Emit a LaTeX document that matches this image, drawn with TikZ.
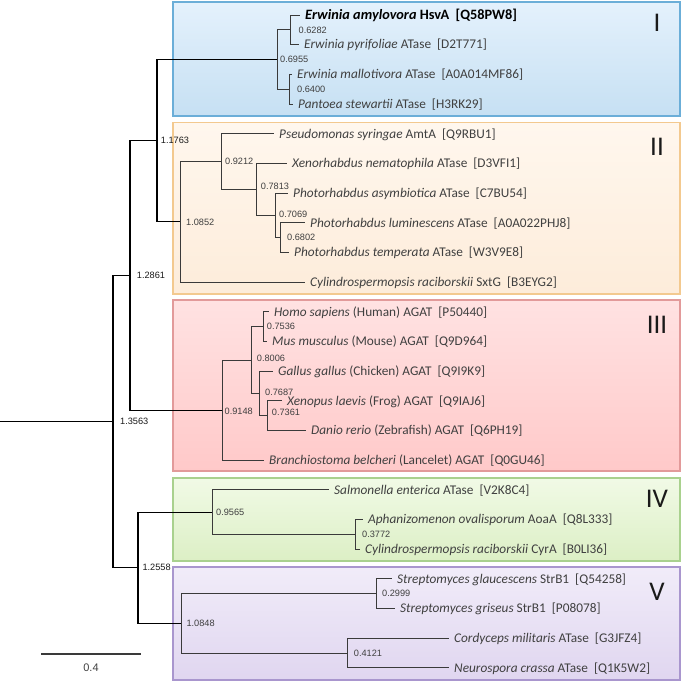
\documentclass[tikz,border=0pt]{standalone}
\usepackage{fontspec}
\setmainfont{Carlito}
\newfontfamily\numfont{Liberation Sans}
\usepackage{tikz}
\usetikzlibrary{positioning,calc}
\definecolor{ink}{HTML}{404040}
\definecolor{inkdark}{HTML}{1A1A1A}
\definecolor{twig}{HTML}{3A3A3A}
\definecolor{blueedge}{HTML}{6BAED8}
\definecolor{bluetop}{HTML}{E4F1FC}
\definecolor{bluebot}{HTML}{C6E0F3}
\definecolor{orangeedge}{HTML}{F3C98F}
\definecolor{orangetop}{HTML}{FFF7EE}
\definecolor{orangebot}{HTML}{FDECDA}
\definecolor{rededge}{HTML}{E29A9A}
\definecolor{redtop}{HTML}{FFE2E2}
\definecolor{redbot}{HTML}{FFC9C9}
\definecolor{greenedge}{HTML}{A9D18E}
\definecolor{greentop}{HTML}{F1FAE6}
\definecolor{greenbot}{HTML}{DCEFC5}
\definecolor{violetedge}{HTML}{A996CE}
\definecolor{violettop}{HTML}{F1ECF9}
\definecolor{violetbot}{HTML}{E0D6F0}
\tikzset{
    cladebox/.style={line width=1.2pt},
    branch/.style={draw=black,line width=1.1pt},
    inbranch/.style={draw=twig,line width=1pt},
    leaf/.style={anchor=west,inner xsep=5pt,inner ysep=0pt,text height=9.8pt,text depth=1.2pt,
      text=ink,font=\fontsize{13.3}{15}\selectfont},
    support/.style={inner xsep=0pt,inner ysep=0pt,text=ink,
      font=\numfont\fontsize{9.2}{11}\selectfont},
    outsupport/.style={support,text=inkdark},
    cladenum/.style={text=inkdark,font=\fontsize{27}{30}\selectfont}
}
\begin{document}
\begin{tikzpicture}[x=1pt,y=-1pt]
  \useasboundingbox (0,0) rectangle (683,681);
  \draw[cladebox,draw=blueedge,top color=bluetop,bottom color=bluebot] (173,2) rectangle (680,116);
  \draw[cladebox,draw=orangeedge,top color=orangetop,bottom color=orangebot] (173,122.5) rectangle (680,294);
  \draw[cladebox,draw=rededge,top color=redtop,bottom color=redbot] (173,300) rectangle (680,471);
  \draw[cladebox,draw=greenedge,top color=greentop,bottom color=greenbot] (173,478) rectangle (680,561);
  \draw[cladebox,draw=violetedge,top color=violettop,bottom color=violetbot] (173,567) rectangle (680,680);
  \node[cladenum] (numI) at (657,23){I};
  \node[cladenum] (numII) at (657,147){II};
  \node[cladenum] (numIII) at (657,325){III};
  \node[cladenum] (numIV) at (657,499){IV};
  \node[cladenum] (numV) at (657,592){V};

  \node[leaf,text=black,text height=10.4pt,font=\fontsize{14.3}{16}\selectfont\bfseries] (lf0) at (300,15){\textit{Erwinia amylovora} HsvA\ \ [Q58PW8]};
  \node[leaf] (lf1) at (299,44.68){\textit{Erwinia pyrifoliae} ATase\ \ [D2T771]};
  \node[leaf] (lf2) at (292,74.36){\textit{Erwinia mallotivora} ATase\ \ [A0A014MF86]};
  \node[leaf] (lf3) at (293,104.04){\textit{Pantoea stewartii} ATase\ \ [H3RK29]};
  \node[leaf] (lf4) at (274,133.72){\textit{Pseudomonas syringae} AmtA\ \ [Q9RBU1]};
  \node[leaf] (lf5) at (287,163.4){\textit{Xenorhabdus nematophila} ATase\ \ [D3VFI1]};
  \node[leaf] (lf6) at (288,193.08){\textit{Photorhabdus asymbiotica} ATase\ \ [C7BU54]};
  \node[leaf] (lf7) at (305,222.76){\textit{Photorhabdus luminescens} ATase\ \ [A0A022PHJ8]};
  \node[leaf] (lf8) at (289,252.44){\textit{Photorhabdus temperata} ATase\ \ [W3V9E8]};
  \node[leaf] (lf9) at (305,282.12){\textit{Cylindrospermopsis raciborskii} SxtG\ \ [B3EYG2]};
  \node[leaf] (lf10) at (269,311.8){\textit{Homo sapiens} (Human) AGAT\ \ [P50440]};
  \node[leaf] (lf11) at (267,341.48){\textit{Mus musculus} (Mouse) AGAT\ \ [Q9D964]};
  \node[leaf] (lf12) at (273,371.16){\textit{Gallus gallus} (Chicken) AGAT\ \ [Q9I9K9]};
  \node[leaf] (lf13) at (282,400.84){\textit{Xenopus laevis} (Frog) AGAT\ \ [Q9IAJ6]};
  \node[leaf] (lf14) at (306,430.52){\textit{Danio rerio} (Zebrafish) AGAT\ \ [Q6PH19]};
  \node[leaf] (lf15) at (264,460.2){\textit{Branchiostoma belcheri} (Lancelet) AGAT\ \ [Q0GU46]};
  \node[leaf] (lf16) at (329,489.88){\textit{Salmonella enterica} ATase\ \ [V2K8C4]};
  \node[leaf] (lf17) at (363,519.56){\textit{Aphanizomenon ovalisporum} AoaA\ \ [Q8L333]};
  \node[leaf] (lf18) at (360,549.24){\textit{Cylindrospermopsis raciborskii} CyrA\ \ [B0LI36]};
  \node[leaf] (lf19) at (392,578.92){\textit{Streptomyces glaucescens} StrB1\ \ [Q54258]};
  \node[leaf] (lf20) at (395,608.6){\textit{Streptomyces griseus} StrB1\ \ [P08078]};
  \node[leaf] (lf21) at (449,638.28){\textit{Cordyceps militaris} ATase\ \ [G3JFZ4]};
  \node[leaf] (lf22) at (449,667.96){\textit{Neurospora crassa} ATase\ \ [Q1K5W2]};

  \coordinate (root) at (0,421.6);
  \coordinate (n13563) at (113,421.6);
  \coordinate (n12861) at (130,275.4);
  \coordinate (n12558) at (138,567.79);
  \coordinate (n11763) at (157,140.68);
  \coordinate (n6955) at (277,59.52);
  \coordinate (n6282) at (290,29.84);
  \coordinate (n6400) at (289,89.2);
  \coordinate (n10852) at (180,221.83);
  \coordinate (n9212) at (221,161.55);
  \coordinate (n7813) at (256,189.37);
  \coordinate (n7069) at (275,215.34);
  \coordinate (n6802) at (280,237.6);
  \coordinate (n9148) at (222,410.12);
  \coordinate (n8006) at (251,360.03);
  \coordinate (n7536) at (263,326.64);
  \coordinate (n7687) at (259,393.42);
  \coordinate (n7361) at (267,415.68);
  \coordinate (n9565) at (212,512.14);
  \coordinate (n3772) at (355,534.4);
  \coordinate (n10848) at (181,623.44);
  \coordinate (n2999) at (376,593.76);
  \coordinate (n4121) at (347,653.12);

  \draw[branch] (root) -- (n13563);
  \draw[branch] (n13563) |- (n12861) (n13563) |- (n12558);
  \draw[branch] (n12861) |- (n11763) (n12861) |- (n9148);
  \draw[branch] (n11763) |- (n6955) (n11763) |- (n10852);
  \draw[branch] (n12558) |- (n9565) (n12558) |- (n10848);
  \draw[inbranch] (n6955) |- (n6282) (n6955) |- (n6400);
  \draw[inbranch] (n6282) |- (lf0.west) (n6282) |- (lf1.west);
  \draw[inbranch] (n6400) |- (lf2.west) (n6400) |- (lf3.west);
  \draw[inbranch] (n10852) |- (n9212) (n10852) |- (lf9.west);
  \draw[inbranch] (n9212) |- (lf4.west) (n9212) |- (n7813);
  \draw[inbranch] (n7813) |- (lf5.west) (n7813) |- (n7069);
  \draw[inbranch] (n7069) |- (lf6.west) (n7069) |- (n6802);
  \draw[inbranch] (n6802) |- (lf7.west) (n6802) |- (lf8.west);
  \draw[inbranch] (n9148) |- (n8006) (n9148) |- (lf15.west);
  \draw[inbranch] (n8006) |- (n7536) (n8006) |- (n7687);
  \draw[inbranch] (n7536) |- (lf10.west) (n7536) |- (lf11.west);
  \draw[inbranch] (n7687) |- (lf12.west) (n7687) |- (n7361);
  \draw[inbranch] (n7361) |- (lf13.west) (n7361) |- (lf14.west);
  \draw[inbranch] (n9565) |- (lf16.west) (n9565) |- (n3772);
  \draw[inbranch] (n3772) |- (lf17.west) (n3772) |- (lf18.west);
  \draw[inbranch] (n10848) |- (n2999) (n10848) |- (n4121);
  \draw[inbranch] (n2999) |- (lf19.west) (n2999) |- (lf20.west);
  \draw[inbranch] (n4121) |- (lf21.west) (n4121) |- (lf22.west);

  \node[outsupport,right=7pt of n13563] (s13563){1.3563};
  \node[outsupport,right=6.7pt of n12861] (s12861){1.2861};
  \node[outsupport,right=4.3pt of n12558] (s12558){1.2558};
  \node[outsupport,right=3.7pt of n11763] (s11763){1.1763};
  \node[support,right=3pt of n6955] (s6955){0.6955};
  \node[support,right=8.5pt of n6282] (s6282){0.6282};
  \node[support,right=8pt of n6400] (s6400){0.6400};
  \node[support,right=6pt of n10852] (s10852){1.0852};
  \node[support,right=4pt of n9212] (s9212){0.9212};
  \node[support,right=4.7pt of n7813,yshift=3.5pt] (s7813){0.7813};
  \node[support,right=4pt of n7069,yshift=1pt] (s7069){0.7069};
  \node[support,right=7pt of n6802] (s6802){0.6802};
  \node[support,right=2.5pt of n9148,yshift=-1.5pt] (s9148){0.9148};
  \node[support,right=5.7pt of n8006,yshift=2pt] (s8006){0.8006};
  \node[support,right=3.7pt of n7536] (s7536){0.7536};
  \node[support,right=6pt of n7687,yshift=1.5pt] (s7687){0.7687};
  \node[support,right=4.7pt of n7361,yshift=3.5pt] (s7361){0.7361};
  \node[support,right=4pt of n9565] (s9565){0.9565};
  \node[support,right=7pt of n3772] (s3772){0.3772};
  \node[support,right=5.3pt of n10848] (s10848){1.0848};
  \node[support,right=6pt of n2999] (s2999){0.2999};
  \node[support,right=6.7pt of n4121] (s4121){0.4121};

  \coordinate (bar0) at (41,654);
  \coordinate (bar1) at (141,654);
  \draw[branch,draw=twig] (bar0) -- (bar1);
  \node[support,font=\numfont\fontsize{11}{13}\selectfont] (barlabel) at (91,668){0.4};
\end{tikzpicture}
\end{document}
